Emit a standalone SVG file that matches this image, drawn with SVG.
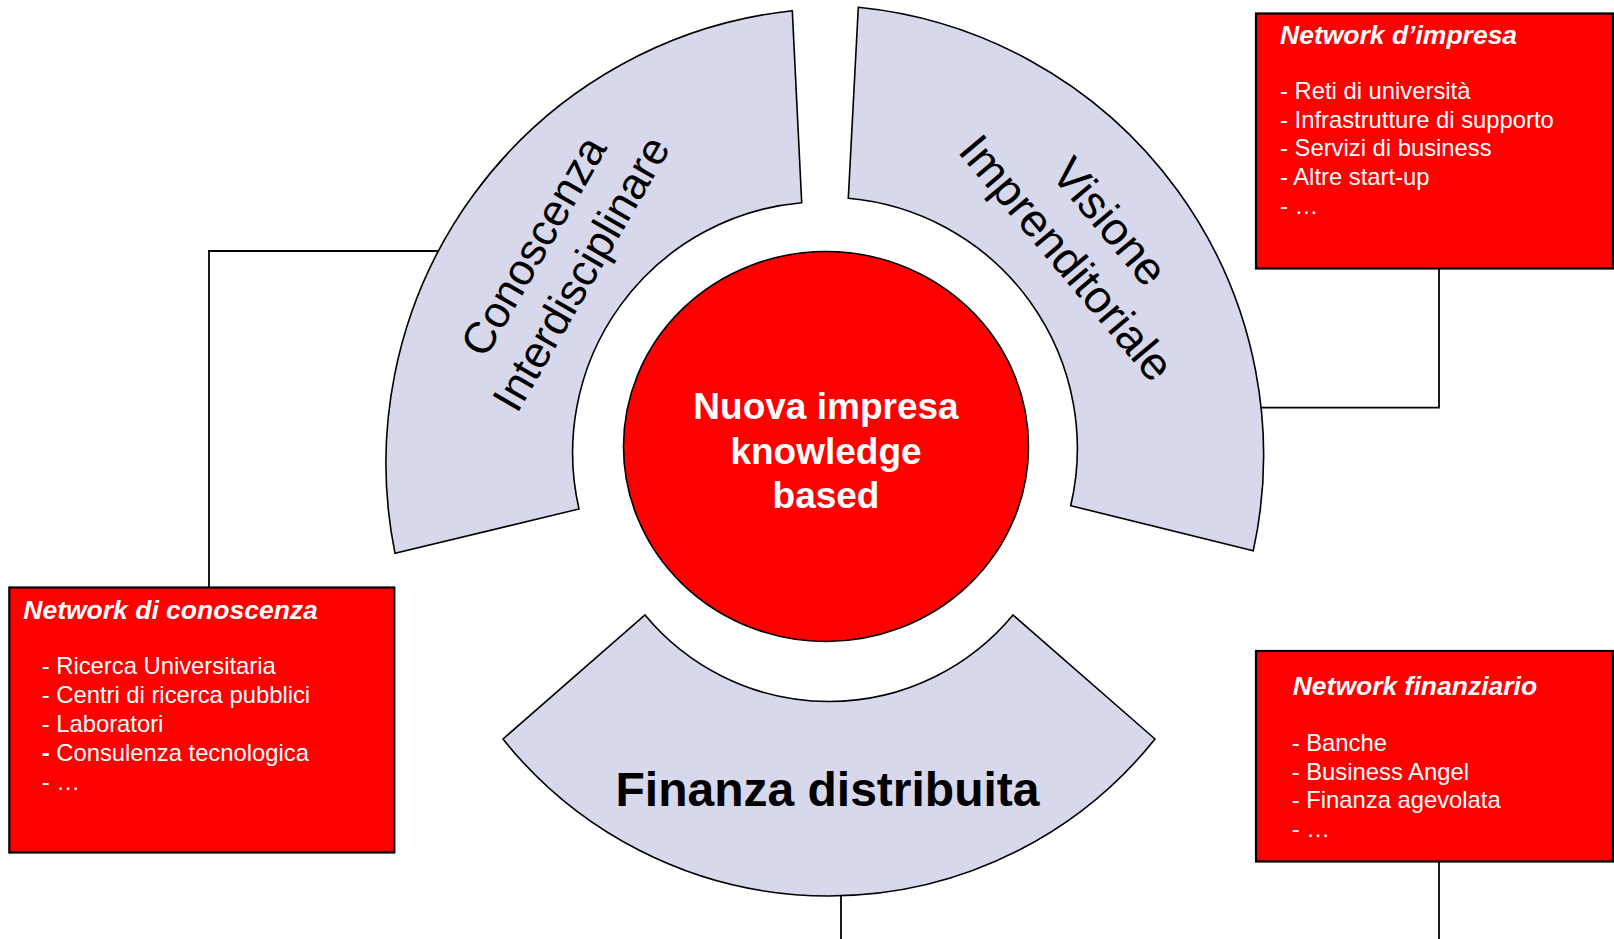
<svg xmlns="http://www.w3.org/2000/svg" width="1614" height="939" viewBox="0 0 1614 939">
<style>
.seg{fill:#D7D8EB;stroke:#000;stroke-width:1.6}
.box{fill:#FF0000;stroke:#000;stroke-width:2.2}
.conn{fill:none;stroke:#000;stroke-width:1.8}
.title{font-family:"Liberation Sans",Arial,sans-serif;font-weight:bold;font-style:italic;font-size:26.5px;fill:#fff}
.item{font-family:"Liberation Sans",Arial,sans-serif;font-size:23.8px;fill:#fff}
.arc{font-family:"Liberation Sans",Arial,sans-serif;font-size:44px;fill:#000;text-anchor:middle}
.core{font-family:"Liberation Sans",Arial,sans-serif;font-weight:bold;font-size:37px;fill:#fff;text-anchor:middle}
.fin{font-family:"Liberation Sans",Arial,sans-serif;font-weight:bold;font-size:48px;fill:#000;text-anchor:middle}
</style>
<rect width="1614" height="939" fill="#fff"/>
<g id="connectors">
<path class="conn" d="M440,251 H209 V587.5"/>
<path class="conn" d="M1258,407.7 H1439 V268.5"/>
<path class="conn" d="M841,895.5 V939"/>
<path class="conn" d="M1439,861.5 V939"/>
</g>
<g id="conoscenza-interdisciplinare">
<path class="seg" d="M792.3,10.7 L801.7,202.7 A251 251 0 0 0 579,509 L395,553.3 A455 455 0 0 1 792.3,10.7 Z"/>
<text class="arc" transform="translate(556,259) rotate(-60)"><tspan x="0" y="-11">Conoscenza</tspan><tspan x="0" y="44">Interdisciplinare</tspan></text>
</g>
<g id="visione-imprenditoriale">
<path class="seg" d="M858.3,7.3 A450 450 0 0 1 1253.3,550.7 L1070.7,505.7 A251 251 0 0 0 848.3,198.3 Z"/>
<text class="arc" style="font-size:46px" transform="translate(1089,239) rotate(50)"><tspan x="0" y="-11.5">Visione</tspan><tspan x="0" y="45">Imprenditoriale</tspan></text>
</g>
<g id="finanza-distribuita">
<path class="seg" d="M503,739 L645,615 A239 239 0 0 0 1013,615 L1155,739 A417 417 0 0 1 503,739 Z"/>
<text class="fin" x="827.5" y="806">Finanza distribuita</text>
</g>
<g id="nuova-impresa">
<ellipse cx="826" cy="446.5" rx="202.5" ry="195" fill="#FF0000" stroke="#000" stroke-width="1.6"/>
<text class="core"><tspan x="826" y="419">Nuova impresa</tspan><tspan x="826" y="463.5">knowledge</tspan><tspan x="826" y="508">based</tspan></text>
</g>
<g id="network-impresa">
<rect class="box" x="1256" y="13.5" width="357" height="255"/>
<text class="title" x="1280" y="44.3">Network d’impresa</text>
<text class="item"><tspan x="1280" y="99">- Reti di università</tspan><tspan x="1280" y="127.7">- Infrastrutture di supporto</tspan><tspan x="1280" y="156.4">- Servizi di business</tspan><tspan x="1280" y="185.1">- Altre start-up</tspan><tspan x="1280" y="213.8">- …</tspan></text>
</g>
<g id="network-conoscenza">
<rect class="box" x="9.3" y="587.5" width="385" height="265"/>
<text class="title" x="23.3" y="619.3">Network di conoscenza</text>
<text class="item"><tspan x="41.7" y="674.3">- Ricerca Universitaria</tspan><tspan x="41.7" y="703.1">- Centri di ricerca pubblici</tspan><tspan x="41.7" y="731.9">- Laboratori</tspan><tspan x="41.7" y="760.7"><tspan font-weight="bold">-</tspan> Consulenza tecnologica</tspan><tspan x="41.7" y="789.5">- …</tspan></text>
</g>
<g id="network-finanziario">
<rect class="box" x="1256" y="651" width="357" height="210.5"/>
<text class="title" x="1292.7" y="695">Network finanziario</text>
<text class="item"><tspan x="1291.7" y="751">- Banche</tspan><tspan x="1291.7" y="779.7">- Business Angel</tspan><tspan x="1291.7" y="808.4">- Finanza agevolata</tspan><tspan x="1291.7" y="837.1">- …</tspan></text>
</g>
</svg>
